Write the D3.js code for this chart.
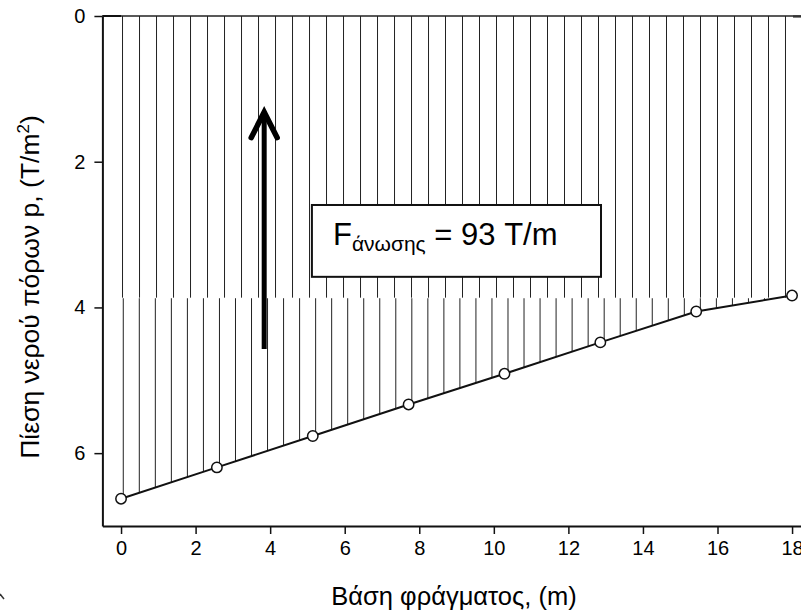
<!DOCTYPE html>
<html>
<head>
<meta charset="utf-8">
<script src="https://cdn.jsdelivr.net/npm/d3@7"></script>
<style>
  body { margin: 0; background: #fff; }
  svg { display: block; font-family: Arial, "Liberation Sans", sans-serif; }
</style>
</head>
<body>
<svg id="chart" width="801" height="613"></svg>
<script>
// pore water pressure along the dam base
const baseX = [0, 2.571, 5.143, 7.714, 10.286, 12.857, 15.429, 18];
const pressure = [6.625, 6.196, 5.765, 5.332, 4.911, 4.48, 4.056, 3.837];
const xTicks = [0, 2, 4, 6, 8, 10, 12, 14, 16, 18];
const yTicks = [0, 2, 4, 6];
const xTitle = "Βάση φράγματος, (m)";
const yTitle = "Πίεση νερού πόρων p, (T/m";
const forceLabel = " = 93 T/m";
const forceSub = "άνωσης";

const svg = d3.select("#chart");
const W = 801;

const x = d3.scaleLinear().domain([-0.5, 18.5]).range([102.4, 810.7]);
const y = d3.scaleLinear().domain([0, 7]).range([16, 526]);

const ink = "#111";

// hatching: upper rectangle part (y from 0 to the lowest pressure band)
const upperBottom = 3.866;
const upperLines = d3.range(0.04, 17.9, 0.456);
svg.append("g").selectAll("line").data(upperLines).join("line")
    .attr("x1", d => x(d)).attr("x2", d => x(d))
    .attr("y1", y(0)).attr("y2", y(upperBottom))
    .attr("stroke", "#222").attr("stroke-width", 1);

// lower part: from the band down to the pressure line
const pAt = d3.scaleLinear().domain(baseX).range(pressure);
const lowerTop = 3.874;
const lowerLines = d3.range(0.06, 18, 0.43).filter(d => pAt(d) > lowerTop);
svg.append("g").selectAll("line").data(lowerLines).join("line")
    .attr("x1", d => x(d)).attr("x2", d => x(d))
    .attr("y1", y(lowerTop)).attr("y2", d => y(pAt(d)))
    .attr("stroke", "#222").attr("stroke-width", 1);

// top line (p = 0)
svg.append("line")
    .attr("x1", x(-0.5)).attr("x2", W)
    .attr("y1", y(0)).attr("y2", y(0))
    .attr("stroke", "#222").attr("stroke-width", 1.3);
svg.append("line")
    .attr("x1", x(-0.5)).attr("x2", x(0))
    .attr("y1", y(0)).attr("y2", y(0))
    .attr("stroke", ink).attr("stroke-width", 2);
svg.append("line")
    .attr("x1", 793).attr("x2", W)
    .attr("y1", y(0) + 0.5).attr("y2", y(0) + 0.5)
    .attr("stroke", "#333").attr("stroke-width", 2.2);

// axes
const xAxis = svg.append("g")
    .attr("transform", `translate(0,${y(7)})`)
    .call(d3.axisBottom(x).tickValues(xTicks).tickFormat(d3.format("d"))
        .tickSize(8).tickPadding(7).tickSizeOuter(0));
const yAxis = svg.append("g")
    .attr("transform", `translate(${x(-0.5)},0)`)
    .call(d3.axisLeft(y).tickValues(yTicks).tickFormat(d3.format("d"))
        .tickSize(8).tickPadding(9).tickSizeOuter(0));

[xAxis, yAxis].forEach(g => {
    g.attr("font-size", 20).attr("font-family", null);
    g.select(".domain").attr("stroke", ink).attr("stroke-width", 2);
    g.selectAll(".tick line").attr("stroke", ink).attr("stroke-width", 1.5);
    g.selectAll(".tick text").attr("fill", "#000")
        .attr("font-size", 20).style("font-size", "20px");
});

// pressure line with markers
svg.append("path")
    .datum(baseX.map((d, i) => [d, pressure[i]]))
    .attr("fill", "none").attr("stroke", ink).attr("stroke-width", 2)
    .attr("d", d3.line().x(d => x(d[0])).y(d => y(d[1])));

svg.append("g").selectAll("circle").data(baseX).join("circle")
    .attr("cx", d => x(d)).attr("cy", (d, i) => y(pressure[i]))
    .attr("r", 5.2)
    .attr("fill", "#fff").attr("stroke", ink).attr("stroke-width", 1.5);

// uplift arrow
const ax = 3.84;
svg.append("line")
    .attr("x1", x(ax)).attr("x2", x(ax))
    .attr("y1", y(4.57)).attr("y2", y(1.34))
    .attr("stroke", "#000").attr("stroke-width", 5);
svg.append("path")
    .attr("d", `M${x(ax) - 13},${y(1.67)} L${x(ax)},${y(1.32)} L${x(ax) + 13},${y(1.67)}`)
    .attr("fill", "none").attr("stroke", "#000").attr("stroke-width", 5.5)
    .attr("stroke-linecap", "round").attr("stroke-linejoin", "miter");

// label box
svg.append("rect")
    .attr("x", x(5.12)).attr("y", y(2.594))
    .attr("width", x(12.875) - x(5.12)).attr("height", y(3.58) - y(2.594))
    .attr("fill", "#fff").attr("stroke", ink).attr("stroke-width", 2);

const lab = svg.append("text")
    .attr("x", 333).attr("y", 245)
    .style("font-size", "31px").attr("fill", "#000");
lab.append("tspan").text("F");
lab.append("tspan").attr("dy", 6).style("font-size", "21px").text(forceSub);
lab.append("tspan").attr("dy", -6).text(forceLabel);

// axis titles
svg.append("text")
    .attr("x", 454).attr("y", 605)
    .attr("text-anchor", "middle")
    .style("font-size", "25.5px").attr("fill", "#000")
    .text(xTitle);

const yt = svg.append("text")
    .attr("transform", "translate(39,287) rotate(-90)")
    .attr("text-anchor", "middle")
    .style("font-size", "26.5px").attr("fill", "#000");
yt.append("tspan").text(yTitle);
yt.append("tspan").attr("dy", -10).style("font-size", "17px").text("2");
yt.append("tspan").attr("dy", 10).text(")");

// clipped mark at the lower left corner
svg.append("line")
    .attr("x1", 0).attr("y1", 594).attr("x2", 4).attr("y2", 599)
    .attr("stroke", "#333").attr("stroke-width", 1.5);
</script>
</body>
</html>
